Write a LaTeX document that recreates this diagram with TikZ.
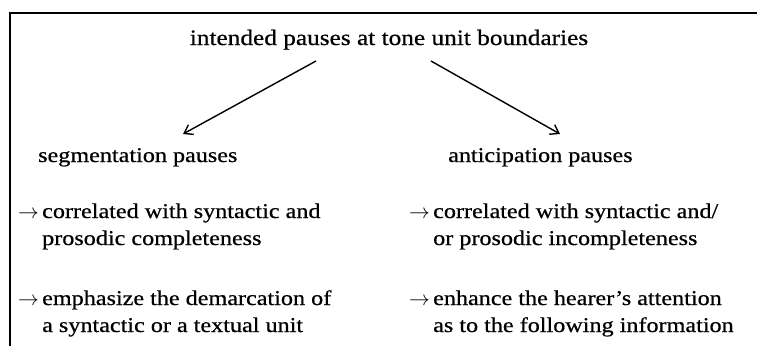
\documentclass[tikz,border=0pt]{standalone}
\usepackage{fontspec}
\setmainfont{Liberation Serif}[FakeStretch=1.15,FakeBold=0.6]
\usetikzlibrary{arrows.meta}
\tikzset{
  txt/.style={anchor=base west, inner sep=0pt, font=\fontsize{21}{25}\selectfont},
  ttl/.style={anchor=base, inner sep=0pt, font=\fontsize{22}{26}\selectfont},
  arr/.style={anchor=base west, inner sep=0pt, font=\fontsize{22}{26}\selectfont},
  link/.style={-{Straight Barb[length=8pt,width=11pt]}, line width=1.4pt},
  frame/.style={line width=1.6pt}
}
\begin{document}
\begin{tikzpicture}[x=1pt,y=-1pt]
\useasboundingbox (0,0) rectangle (757,346);
\coordinate (ftop) at (757,13);
\coordinate (fcorner) at (10,13);
\coordinate (fbot) at (10,346);
\draw[frame] (ftop) -- (fcorner) -- (fbot);

\node[ttl] (title) at (389,45) {intended pauses at tone unit boundaries};

\node[txt] (seg) at (38,162) {segmentation pauses};
\node[txt] (ant) at (448,162) {anticipation pauses};

\coordinate (l1) at (316,61);
\coordinate (l2) at (183,134);
\coordinate (r1) at (431,61);
\coordinate (r2) at (560,134);
\draw[link] (l1) -- (l2);
\draw[link] (r1) -- (r2);

\node[arr] (la1) at (18,218) {$\rightarrow$};
\node[txt] (lt1) at (42,218) {correlated with syntactic and};
\node[txt] (lt2) at (42,245) {prosodic completeness};
\node[arr] (la2) at (18,305) {$\rightarrow$};
\node[txt] (lt3) at (42,305) {emphasize the demarcation of};
\node[txt] (lt4) at (42,332) {a syntactic or a textual unit};

\node[arr] (ra1) at (409,218) {$\rightarrow$};
\node[txt] (rt1) at (433,218) {correlated with syntactic and/};
\node[txt] (rt2) at (433,245) {or prosodic incompleteness};
\node[arr] (ra2) at (409,305) {$\rightarrow$};
\node[txt] (rt3) at (433,305) {enhance the hearer's attention};
\node[txt] (rt4) at (433,332) {as to the following information};
\end{tikzpicture}
\end{document}
